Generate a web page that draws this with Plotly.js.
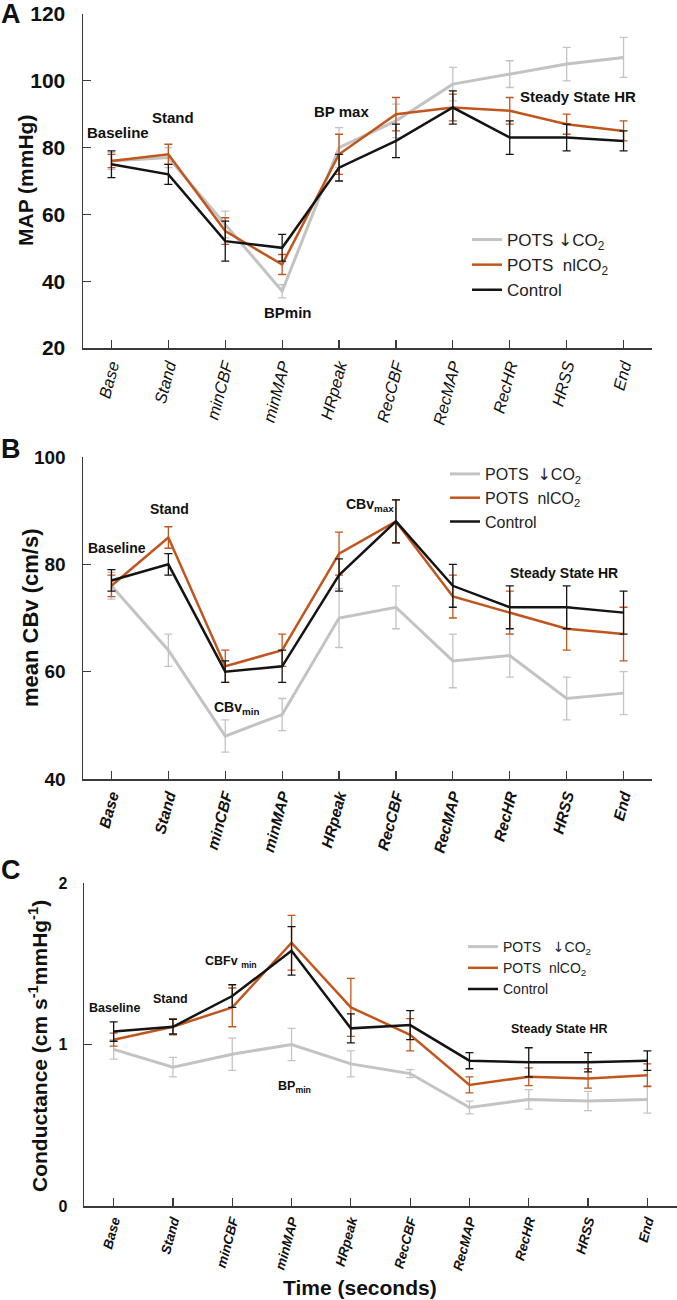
<!DOCTYPE html>
<html><head><meta charset="utf-8">
<script src="https://cdn.plot.ly/plotly-3.0.1.min.js"></script>
<style>html,body{margin:0;padding:0;background:#fff}#chart{width:677px;height:1300px}</style>
</head><body><div id="chart"></div>
<script>
// ---- data ----
const categories = ['Base','Stand','minCBF','minMAP','HRpeak','RecCBF','RecMAP','RecHR','HRSS','End'];
const ARROW = '<span style="font-family:DejaVu Sans">\u2193</span>';
const seriesNames = ['POTS ' + ARROW + 'CO<sub>2</sub>', 'POTS\u00A0\u00A0nlCO<sub>2</sub>', 'Control'];
const seriesNamesB = ['POTS\u00A0\u00A0' + ARROW + 'CO<sub>2</sub>', 'POTS\u00A0\u00A0nlCO<sub>2</sub>', 'Control'];
const seriesNamesC = ['POTS\u00A0\u00A0\u00A0' + ARROW + 'CO<sub>2</sub>', 'POTS\u00A0\u00A0nlCO<sub>2</sub>', 'Control'];

// Panel A: MAP (mmHg)
const mapLowCO2   = [76, 77, 57, 37, 80, 88, 99, 102, 105, 107];
const mapLowCO2Err= [2.5, 3, 4, 2, 6, 5, 5, 4, 5, 6];
const mapNlCO2    = [76, 78, 55, 45, 78, 90, 92, 91, 87, 85];
const mapNlCO2Err = [2, 3, 4, 3, 6, 5, 4, 4, 3, 3];
const mapControl  = [75, 72, 52, 50, 74, 82, 92, 83, 83, 82];
const mapControlErr=[4, 3, 6, 4, 4, 5, 5, 5, 4, 3];

// Panel B: mean CBv (cm/s)
const cbvLowCO2   = [76, 64, 48, 52, 70, 72, 62, 63, 55, 56];
const cbvLowCO2Err= [2.5, 3, 3, 3, 5.5, 4, 5, 4, 4, 4];
const cbvNlCO2    = [76, 85, 61, 64, 82, 88, 74, 71, 68, 67];
const cbvNlCO2Err = [2, 2, 3, 3, 4, 4, 4, 4, 4, 5];
const cbvControl  = [77, 80, 60, 61, 78, 88, 76, 72, 72, 71];
const cbvControlErr=[2, 2, 2, 3, 3, 4, 4, 4, 4, 4];

// Panel C: Conductance
const condLowCO2   = [0.97, 0.86, 0.94, 1.00, 0.88, 0.82, 0.61, 0.66, 0.65, 0.66];
const condLowCO2Err= [0.06, 0.06, 0.10, 0.10, 0.08, 0.025, 0.04, 0.06, 0.06, 0.085];
const condNlCO2    = [1.03, 1.11, 1.23, 1.63, 1.23, 1.06, 0.75, 0.80, 0.79, 0.81];
const condNlCO2Err = [0.04, 0.05, 0.12, 0.17, 0.18, 0.10, 0.05, 0.055, 0.06, 0.07];
const condControl  = [1.08, 1.11, 1.30, 1.58, 1.10, 1.12, 0.90, 0.89, 0.89, 0.90];
const condControlErr=[0.06, 0.045, 0.07, 0.15, 0.09, 0.09, 0.05, 0.09, 0.06, 0.06];

// ---- styling ----
const W = 677, H = 1300;
const px = v => v / W, py = v => 1 - v / H;
const FONT = 'Liberation Sans, Arial, Helvetica, sans-serif';
const colors = ['#c3c3c3', '#c1561d', '#141414'];
const widths = [3, 2.5, 2.5];
const AX = '#3a3a3a';

function mk(vals, errs, i, xa, ya, leg, names) {
  return {
    type: 'scatter', mode: 'lines', x: categories, y: vals, name: names[i],
    xaxis: xa, yaxis: ya, legend: leg, showlegend: true,
    line: {color: colors[i], width: widths[i]},
    error_y: {type: 'data', array: errs, visible: true, color: colors[i], thickness: 1.3, width: 4}
  };
}
const data = [
  mk(mapLowCO2, mapLowCO2Err, 0, 'x', 'y', 'legend', seriesNames),
  mk(mapNlCO2, mapNlCO2Err, 1, 'x', 'y', 'legend', seriesNames),
  mk(mapControl, mapControlErr, 2, 'x', 'y', 'legend', seriesNames),
  mk(cbvLowCO2, cbvLowCO2Err, 0, 'x2', 'y2', 'legend2', seriesNamesB),
  mk(cbvNlCO2, cbvNlCO2Err, 1, 'x2', 'y2', 'legend2', seriesNamesB),
  mk(cbvControl, cbvControlErr, 2, 'x2', 'y2', 'legend2', seriesNamesB),
  mk(condLowCO2, condLowCO2Err, 0, 'x3', 'y3', 'legend3', seriesNamesC),
  mk(condNlCO2, condNlCO2Err, 1, 'x3', 'y3', 'legend3', seriesNamesC),
  mk(condControl, condControlErr, 2, 'x3', 'y3', 'legend3', seriesNamesC)
];

function xax(dom, anchor, tf) {
  return {domain: dom, anchor: anchor, type: 'category', range: [-0.5, 9.5],
    showline: true, linecolor: AX, linewidth: 1.5, ticks: 'inside', ticklen: 8, tickwidth: 1.2, tickcolor: AX,
    showgrid: false, zeroline: false, tickangle: -75, tickfont: tf, fixedrange: true};
}
function yax(dom, anchor, range, vals, tf, standoff) {
  return {domain: dom, anchor: anchor, range: range, tickvals: vals,
    showline: true, linecolor: AX, linewidth: 1.5, ticks: 'inside', ticklen: 8, tickwidth: 1.2, tickcolor: AX,
    showgrid: false, zeroline: false, tickfont: tf, ticklabelstandoff: standoff, fixedrange: true};
}

function ann(text, x, y, size, extra) {
  return Object.assign({xref: 'paper', yref: 'paper', x: px(x), y: py(y), text: text, showarrow: false,
    xanchor: 'center', yanchor: 'middle', font: {family: FONT, size: size, color: '#111'}}, extra || {});
}

const annotations = [
  ann('<b>A</b>', 11, 14, 27), ann('<b>B</b>', 11, 449, 27), ann('<b>C</b>', 11, 870, 27),
  ann('<b>MAP (mmHg)</b>', 25, 181, 21, {textangle: -90}),
  ann('<b>mean CBv (cm/s)</b>', 30, 618, 22, {textangle: -90}),
  ann('<b>Conductance (cm s<sup>-1</sup>mmHg<sup>-1</sup>)</b>', 38, 1046, 21, {textangle: -90}),
  ann('<b>Time (seconds)</b>', 360, 1287, 21),
  // panel A
  ann('<b>Baseline</b>', 118, 132, 15), ann('<b>Stand</b>', 173, 118, 15),
  ann('<b>BP max</b>', 341, 112, 15), ann('<b>Steady State HR</b>', 578, 96, 15),
  ann('<b>BPmin</b>', 288, 313, 15),
  // panel B
  ann('<b>Stand</b>', 169, 509, 14), ann('<b>Baseline</b>', 117, 548, 14),
  ann('<b>CBv<sub>max</sub></b>', 370, 505, 14), ann('<b>Steady State HR</b>', 564, 573, 14),
  ann('<b>CBv<sub>min</sub></b>', 236, 708, 14),
  // panel C
  ann('<b>Baseline</b>', 114, 1008, 12.5), ann('<b>Stand</b>', 170, 999, 12.5),
  ann('<b>CBFv <sub>min</sub></b>', 231, 962, 12.5), ann('<b>Steady State HR</b>', 559, 1029, 12.5),
  ann('<b>BP<sub>min</sub></b>', 294, 1087, 12.5)
];

const legBase = {bgcolor: 'rgba(0,0,0,0)', borderwidth: 0, xanchor: 'left', yanchor: 'top', tracegroupgap: 0};
const layout = {
  width: W, height: H, margin: {l: 0, r: 0, t: 0, b: 0},
  paper_bgcolor: '#fff', plot_bgcolor: 'rgba(0,0,0,0)',
  font: {family: FONT, color: '#111'}, hovermode: false,
  xaxis: xax([px(83), px(652)], 'y', {family: FONT, size: 16.5, style: 'italic', color: '#111'}),
  yaxis: yax([py(348), py(14)], 'x', [20, 120], [20, 40, 60, 80, 100, 120], {family: FONT, size: 21, weight: 'bold', color: '#111'}, 12),
  xaxis2: xax([px(83), px(652)], 'y2', {family: FONT, size: 15.5, style: 'italic', weight: 'bold', color: '#111'}),
  yaxis2: yax([py(779), py(457)], 'x2', [40, 100], [40, 60, 80, 100], {family: FONT, size: 19, weight: 'bold', color: '#111'}, 12),
  xaxis3: xax([px(84), 1], 'y3', {family: FONT, size: 13.5, style: 'italic', weight: 'bold', color: '#111'}),
  yaxis3: yax([py(1206), py(883)], 'x3', [0, 2], [0, 1, 2], {family: FONT, size: 16, weight: 'bold', color: '#111'}, 12),
  legend: Object.assign({}, legBase, {x: px(467), y: py(222), font: {family: FONT, size: 17, color: '#222'}}),
  legend2: Object.assign({}, legBase, {x: px(445), y: py(457), font: {family: FONT, size: 16, color: '#222'}}),
  legend3: Object.assign({}, legBase, {x: px(463), y: py(931), font: {family: FONT, size: 14, color: '#222'}}),
  annotations: annotations
};
Plotly.newPlot('chart', data, layout, {staticPlot: true, displayModeBar: false});
</script></body></html>
